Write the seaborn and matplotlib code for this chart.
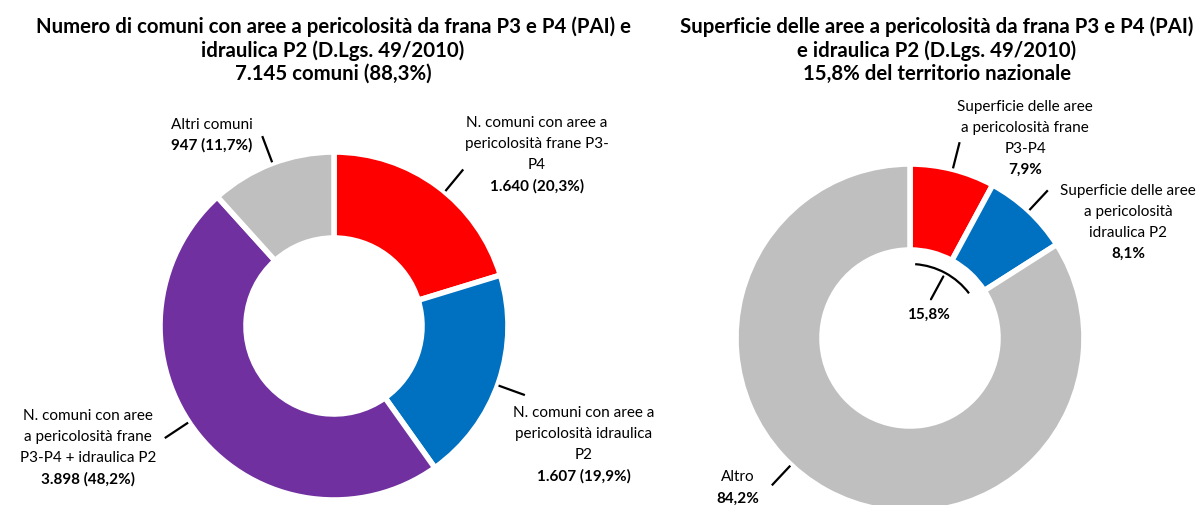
import numpy as np
import matplotlib
matplotlib.use("Agg")
import matplotlib.pyplot as plt
import seaborn as sns
from matplotlib.patches import Arc

# ============================================================
# DATI
# ============================================================
left_title = ("Numero di comuni con aree a pericolosità da frana P3 e P4 (PAI) e\n"
              "idraulica P2 (D.Lgs. 49/2010)\n7.145 comuni (88,3%)")
left_names = [
    ["N. comuni con aree a", "pericolosità frane P3-", "P4"],
    ["N. comuni con aree a", "pericolosità idraulica", "P2"],
    ["N. comuni con aree", "a pericolosità frane", "P3-P4 + idraulica P2"],
    ["Altri comuni"],
]
left_values = [1640, 1607, 3898, 947]
left_pct = [20.3, 19.9, 48.2, 11.7]
left_colors = ["#FF0000", "#0070C0", "#7030A0", "#BFBFBF"]

right_title = ("Superficie delle aree a pericolosità da frana P3 e P4 (PAI)\n"
               "e idraulica P2 (D.Lgs. 49/2010)\n15,8% del territorio nazionale")
right_names = [
    ["Superficie delle aree", "a pericolosità frane", "P3-P4"],
    ["Superficie delle aree", "a pericolosità", "idraulica P2"],
    ["Altro"],
]
right_pct = [7.9, 8.1, 84.2]
right_colors = ["#FF0000", "#0070C0", "#BFBFBF"]
right_total = 15.8

# ============================================================
# LAYOUT (pixel, y dall'alto)
# ============================================================
W, H = 1201, 506
R_OUT, R_W = 174, 86
left_center = (334, 327)
right_center = (910, 339)
left_label_pos = [(537, 123), (584, 413), (88, 416), (212, 125)]
left_leader_shift = [3, 1, 5, 0]
right_label_pos = [(1025, 107), (1128, 191), (738, 477)]
right_leader_shift = [0, 0, 14]


def fy(y):
    return H - y


def fmt_it(v):
    return f"{v:,}".replace(",", ".")


def pct_it(p):
    return f"{p:.1f}%".replace(".", ",")


def draw_lines(ax, x, y0, lines, step=21, size=11):
    for i, (txt, bold) in enumerate(lines):
        ax.text(x, fy(y0 + i * step), txt, ha="center", va="center",
                fontsize=size, fontweight="bold" if bold else "normal", color="black")


def draw_leaders(ax, center, pct, shifts, r0, r1):
    cum = np.cumsum([0] + list(pct))
    for i in range(len(pct)):
        mid = np.deg2rad((cum[i] + cum[i + 1]) / 2 / 100 * 360 + shifts[i])
        dx, dy = np.sin(mid), np.cos(mid)
        ax.plot([center[0] + r0 * dx, center[0] + r1 * dx],
                [fy(center[1]) + r0 * dy, fy(center[1]) + r1 * dy],
                color="black", lw=1.6, solid_capstyle="butt")


sns.set_theme(style="white")
plt.rcParams["font.family"] = ["Lato", "DejaVu Sans"]

fig = plt.figure(figsize=(W / 100, H / 100), dpi=100)
ax = fig.add_axes([0, 0, 1, 1])

wedge = dict(width=R_W, edgecolor="white", linewidth=4)
ax.pie(left_pct, colors=left_colors, startangle=90, counterclock=False,
       center=(left_center[0], fy(left_center[1])), radius=R_OUT, wedgeprops=wedge)
ax.pie(right_pct, colors=right_colors, startangle=90, counterclock=False,
       center=(right_center[0], fy(right_center[1])), radius=R_OUT, wedgeprops=wedge)

ax.set_xlim(0, W)
ax.set_ylim(0, H)
ax.set_aspect("equal")
ax.axis("off")

# titoli
ax.text(333, fy(50), left_title, ha="center", va="center", fontsize=14.7,
        fontweight="bold", linespacing=1.2, color="black")
ax.text(937, fy(50), right_title, ha="center", va="center", fontsize=14.7,
        fontweight="bold", linespacing=1.2, color="black")

# etichette grafico sinistro
for names, val, p, (x, y) in zip(left_names, left_values, left_pct, left_label_pos):
    lines = [(n, False) for n in names] + [(f"{fmt_it(val)} ({pct_it(p)})", True)]
    draw_lines(ax, x, y, lines, step=21 if len(names) > 1 else 20)
draw_leaders(ax, left_center, left_pct, left_leader_shift, R_OUT + 1, R_OUT + 29)

# etichette grafico destro
for names, p, (x, y) in zip(right_names, right_pct, right_label_pos):
    lines = [(n, False) for n in names] + [(pct_it(p), True)]
    draw_lines(ax, x, y, lines, step=21 if len(names) > 1 else 22)
draw_leaders(ax, right_center, right_pct, right_leader_shift, R_OUT + 1, R_OUT + 28)

# arco interno 15,8%
span = right_total / 100 * 360
arc = Arc((right_center[0], fy(right_center[1])), 148, 148,
          theta1=90 - span + 4, theta2=90 - 4, color="black", lw=1.6)
ax.add_patch(arc)
mid = np.deg2rad(span / 2)
ax.plot([right_center[0] + 70 * np.sin(mid), right_center[0] + 44 * np.sin(mid)],
        [fy(right_center[1]) + 70 * np.cos(mid), fy(right_center[1]) + 44 * np.cos(mid)],
        color="black", lw=1.6)
ax.text(928, fy(315), pct_it(right_total), ha="center", va="center",
        fontsize=11, fontweight="bold", color="black")

fig.savefig("out.png", dpi=100)
